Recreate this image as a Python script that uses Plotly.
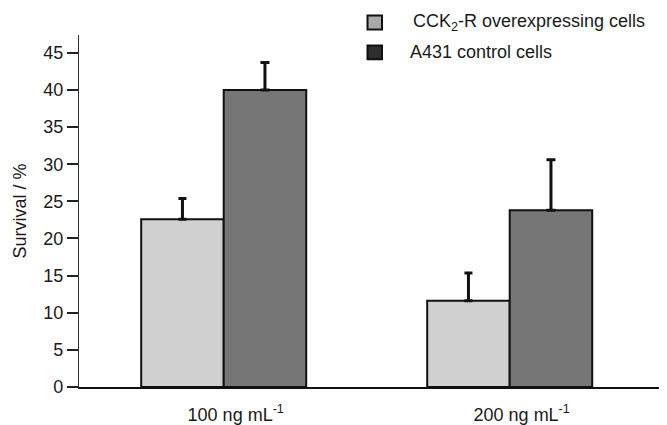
import plotly.graph_objects as go

categories = ["100 ng mL<sup>-1</sup>", "200 ng mL<sup>-1</sup>"]
series_names = ["CCK<sub>2</sub>-R overexpressing cells", "A431 control cells"]
cck_values = [22.6, 11.6]
cck_errors = [2.8, 3.75]
a431_values = [40.0, 23.8]
a431_errors = [3.7, 6.8]
y_ticks = [0, 5, 10, 15, 20, 25, 30, 35, 40, 45]

# the page body has an 8px margin; figure is sized to end at the window edge
OFF = 8
W, H = 667 - OFF, 425 - OFF
L, R, T, B = 79 - OFF, 0, 35 - OFF, 36
FONT = "Liberation Sans, Arial, sans-serif"

fig = go.Figure()
fig.add_trace(go.Bar(
    x=categories, y=cck_values, name=series_names[0], showlegend=False,
    marker=dict(color="#d0d0d0", line=dict(color="#111111", width=2)),
    error_y=dict(type="data", symmetric=False, array=cck_errors,
                 arrayminus=[0] * len(cck_errors), color="#111111",
                 thickness=3, width=4),
))
fig.add_trace(go.Bar(
    x=categories, y=a431_values, name=series_names[1], showlegend=False,
    marker=dict(color="#767676", line=dict(color="#111111", width=2)),
    error_y=dict(type="data", symmetric=False, array=a431_errors,
                 arrayminus=[0] * len(a431_errors), color="#111111",
                 thickness=3, width=4.5),
))

# manual legend (page pixel positions converted to paper coordinates)
pw, ph = W - L - R, H - T - B
def px(x):
    return (x - OFF - L) / pw
def py(y):
    return 1 - (y - OFF - T) / ph

legend_fill = ["#a9a9a9", "#2e2e2e"]
legend_y = [22.5, 52.5]
legend_text_x = [411, 408]
shapes = []
annotations = []
for name, fill, yc, tx in zip(series_names, legend_fill, legend_y, legend_text_x):
    shapes.append(dict(type="rect", xref="paper", yref="paper",
                       x0=px(367.5), x1=px(382), y0=py(yc + 7), y1=py(yc - 7),
                       fillcolor=fill, line=dict(color="#111111", width=2)))
    annotations.append(dict(xref="paper", yref="paper", x=px(tx), y=py(yc),
                            xanchor="left", yanchor="middle", showarrow=False,
                            text=name, font=dict(size=18, color="#1a1a1a", family=FONT)))

fig.update_layout(
    width=W, height=H, autosize=False,
    margin=dict(l=L, r=R, t=T, b=B, pad=0),
    paper_bgcolor="white", plot_bgcolor="white",
    barmode="group", bargap=0.423, bargroupgap=0,
    font=dict(family=FONT, size=18, color="#1a1a1a"),
    shapes=shapes, annotations=annotations,
    xaxis=dict(range=[-0.506, 1.55], showgrid=False, zeroline=False,
               showline=True, linecolor="#111111", linewidth=2,
               ticks="", ticklabelshift=12, ticklabelstandoff=10,
               tickfont=dict(size=18, color="#1a1a1a")),
    yaxis=dict(range=[0, 47.4], tickvals=y_ticks, showgrid=False, zeroline=False,
               showline=True, linecolor="#333333", linewidth=1.2,
               ticks="outside", ticklen=11, tickwidth=2, tickcolor="#222222",
               ticklabelstandoff=0,
               tickfont=dict(size=18, color="#1a1a1a"),
               title=dict(text="Survival / %", standoff=11,
                          font=dict(size=18, color="#1a1a1a"))),
)

fig.write_html("out.html")
